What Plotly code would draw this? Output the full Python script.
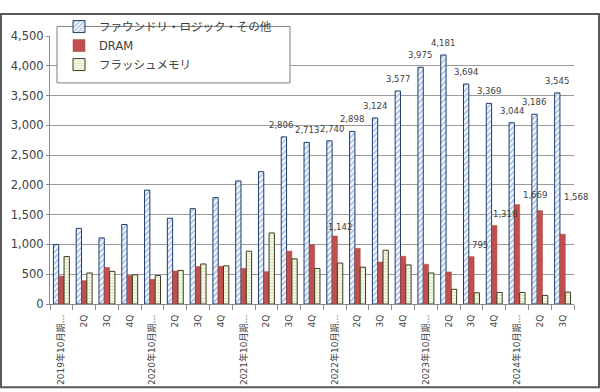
import plotly.graph_objects as go

# ---- data ----
categories = [
    "2019年10月期…", "2Q", "3Q", "4Q",
    "2020年10月期…", "2Q", "3Q", "4Q",
    "2021年10月期…", "2Q", "3Q", "4Q",
    "2022年10月期…", "2Q", "3Q", "4Q",
    "2023年10月期…", "2Q", "3Q", "4Q",
    "2024年10月期…", "2Q", "3Q",
]
foundry = [1000, 1270, 1110, 1335, 1912, 1440, 1600, 1786, 2066, 2222, 2806, 2713,
           2740, 2898, 3124, 3577, 3975, 4181, 3694, 3369, 3044, 3186, 3545]
dram = [468, 392, 613, 478, 414, 554, 629, 634, 597, 543, 887, 995,
        1142, 935, 704, 801, 667, 538, 795, 1318, 1669, 1568, 1172]
flash = [796, 521, 548, 489, 478, 564, 672, 640, 887, 1193, 758, 597,
         688, 618, 903, 656, 521, 247, 188, 194, 194, 145, 199]
series_names = ["ファウンドリ・ロジック・その他", "DRAM", "フラッシュメモリ"]
foundry_label_idx = list(range(10, 23))
dram_label_idx = [12, 18, 19, 20, 21]
y_ticks = [0, 500, 1000, 1500, 2000, 2500, 3000, 3500, 4000, 4500]

# ---- figure ----
FONT = "DejaVu Sans, Noto Sans CJK JP, sans-serif"
x = list(range(len(categories)))

fig = go.Figure()
fig.add_trace(go.Bar(
    x=x, y=foundry, name=series_names[0],
    marker=dict(color="white",
                pattern=dict(shape="/", fgcolor="#5a8ad0", bgcolor="white", size=4, solidity=0.5),
                line=dict(color="#1f3b6b", width=1)),
))
fig.add_trace(go.Bar(
    x=x, y=dram, name=series_names[1],
    marker=dict(color="#c0504d", line=dict(color="#a43e3b", width=0.5)),
))
fig.add_trace(go.Bar(
    x=x, y=flash, name=series_names[2],
    marker=dict(color="#f5f7e4",
                pattern=dict(shape="-", fgcolor="#c6d89e", bgcolor="#f5f7e4", size=3, solidity=0.35),
                line=dict(color="#3b3b22", width=1)),
))

annotations = []
foundry_label_dx = {10: -8, 11: -5, 12: -2.5}
for i in foundry_label_idx:
    annotations.append(dict(
        x=i, y=foundry[i], xref="x", yref="y", text=f"{foundry[i]:,}",
        showarrow=False, xshift=foundry_label_dx.get(i, -5.5), yshift=12, yanchor="middle",
        font=dict(family=FONT, size=8.5, color="#404040"),
    ))
dram_label_shift = {12: (5, 9), 18: (9, 12), 19: (11, 12), 20: (18, 10), 21: (36, 14)}
for i in dram_label_idx:
    dx, dy = dram_label_shift[i]
    annotations.append(dict(
        x=i, y=dram[i], xref="x", yref="y", text=f"{dram[i]:,}",
        showarrow=False, xshift=dx, yshift=dy, yanchor="middle",
        font=dict(family=FONT, size=8.5, color="#404040"),
    ))

# plot area: x 50..574, y 24..304 in a 600x392 canvas
PL, PT, PW, PH = 50, 24, 524, 280
def px(xp):
    return (xp - PL) / PW
def py(yp):
    return (PT + PH - yp) / PH

# outer frame
fig.add_shape(type="rect", xref="paper", yref="paper",
              x0=px(1), x1=px(599), y0=py(391), y1=py(1),
              line=dict(color="#595959", width=2), fillcolor="rgba(0,0,0,0)", layer="above")
# legend box
fig.add_shape(type="rect", xref="paper", yref="paper",
              x0=px(57), x1=px(290), y0=py(73), y1=py(14),
              line=dict(color="#7f7f7f", width=1), fillcolor="white", layer="above")

fig.update_layout(
    width=600, height=392,
    margin=dict(l=PL, r=600 - PL - PW, t=PT, b=392 - PT - PH),
    paper_bgcolor="white", plot_bgcolor="white",
    barmode="group", bargap=0.3, bargroupgap=0,
    font=dict(family=FONT, size=11, color="#404040"),
    showlegend=True,
    legend=dict(x=px(59), y=py(-1), xanchor="left", yanchor="top",
                borderwidth=0, bgcolor="rgba(0,0,0,0)",
                font=dict(family=FONT, size=11.5, color="#404040"),
                tracegroupgap=0, itemwidth=30),
    annotations=annotations,
    xaxis=dict(
        range=[-0.5, len(categories) - 0.5],
        tickmode="array", tickvals=x, ticktext=categories,
        tickangle=-90, ticks="", showgrid=False, automargin=False,
        ticklabelstandoff=6,
        tickfont=dict(family=FONT, size=9, color="#404040"),
        showline=True, linecolor="#8c8c8c", linewidth=1,
        minor=dict(ticks="outside", tick0=-0.5, dtick=1, ticklen=5, tickcolor="#8c8c8c", showgrid=False),
        zeroline=False,
    ),
    yaxis=dict(
        range=[0, 4500], tickmode="array", tickvals=y_ticks,
        ticktext=[f"{v:,}" for v in y_ticks], automargin=False,
        showgrid=True, gridcolor="#9a9a9a", gridwidth=1,
        showline=True, linecolor="#8c8c8c", linewidth=1,
        ticks="outside", ticklen=3, tickcolor="#8c8c8c",
        tickfont=dict(family=FONT, size=11.5, color="#404040"),
        zeroline=False,
    ),
)

fig.write_html("out.html", config={"displayModeBar": False},
               post_script="document.body.style.margin='0';document.body.style.overflow='hidden';")
